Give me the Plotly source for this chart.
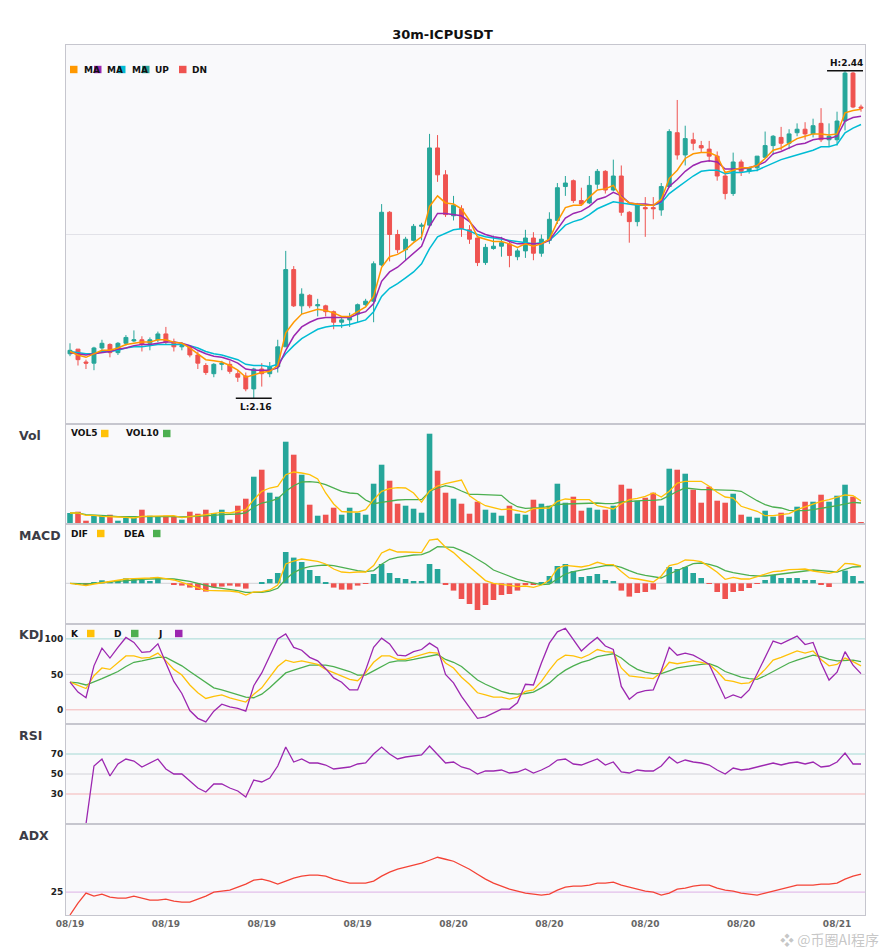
import pandas as pd
import numpy as np
import plotly.graph_objects as go
from plotly.subplots import make_subplots

# 30m candles, 100 bars
times = pd.date_range("2024-08-19 00:00", periods=100, freq="30min")

open_ = [2.198, 2.202, 2.191, 2.190, 2.203, 2.206, 2.199, 2.207, 2.209, 2.210,
         2.207, 2.210, 2.215, 2.208, 2.204, 2.204, 2.197, 2.188, 2.181, 2.189,
         2.189, 2.181, 2.179, 2.168, 2.185, 2.181, 2.187, 2.204, 2.270, 2.239,
         2.248, 2.239, 2.239, 2.234, 2.225, 2.227, 2.232, 2.240, 2.243, 2.274,
         2.319, 2.300, 2.287, 2.295, 2.307, 2.308, 2.374, 2.351, 2.316, 2.322,
         2.304, 2.297, 2.276, 2.288, 2.290, 2.292, 2.281, 2.286, 2.297, 2.284,
         2.295, 2.312, 2.341, 2.346, 2.329, 2.327, 2.343, 2.354, 2.338, 2.350,
         2.319, 2.311, 2.323, 2.323, 2.321, 2.341, 2.387, 2.368, 2.381, 2.376,
         2.373, 2.367, 2.350, 2.335, 2.362, 2.354, 2.357, 2.366, 2.376, 2.383,
         2.378, 2.387, 2.390, 2.386, 2.395, 2.381, 2.381, 2.397, 2.438, 2.409]
high = [2.207, 2.202, 2.193, 2.204, 2.210, 2.207, 2.208, 2.214, 2.218, 2.213,
        2.212, 2.217, 2.221, 2.211, 2.208, 2.205, 2.200, 2.190, 2.190, 2.192,
        2.192, 2.184, 2.182, 2.186, 2.190, 2.191, 2.210, 2.286, 2.273, 2.254,
        2.249, 2.245, 2.240, 2.235, 2.230, 2.233, 2.241, 2.245, 2.277, 2.326,
        2.320, 2.304, 2.298, 2.309, 2.310, 2.386, 2.385, 2.355, 2.333, 2.325,
        2.308, 2.297, 2.292, 2.299, 2.298, 2.294, 2.288, 2.304, 2.302, 2.300,
        2.319, 2.344, 2.350, 2.347, 2.340, 2.350, 2.356, 2.355, 2.364, 2.359,
        2.320, 2.327, 2.332, 2.332, 2.344, 2.390, 2.415, 2.393, 2.387, 2.380,
        2.380, 2.371, 2.354, 2.370, 2.364, 2.358, 2.367, 2.388, 2.385, 2.392,
        2.390, 2.395, 2.396, 2.399, 2.408, 2.395, 2.405, 2.440, 2.439, 2.411]
low = [2.196, 2.188, 2.185, 2.184, 2.200, 2.195, 2.197, 2.205, 2.208, 2.200,
       2.201, 2.208, 2.206, 2.200, 2.201, 2.195, 2.185, 2.180, 2.178, 2.184,
       2.181, 2.174, 2.166, 2.160, 2.170, 2.178, 2.182, 2.204, 2.238, 2.232,
       2.237, 2.230, 2.230, 2.219, 2.220, 2.221, 2.225, 2.239, 2.225, 2.273,
       2.277, 2.284, 2.278, 2.294, 2.295, 2.306, 2.345, 2.315, 2.312, 2.298,
       2.292, 2.273, 2.274, 2.287, 2.281, 2.272, 2.278, 2.280, 2.278, 2.281,
       2.292, 2.309, 2.333, 2.327, 2.325, 2.326, 2.339, 2.335, 2.337, 2.316,
       2.293, 2.307, 2.298, 2.313, 2.316, 2.340, 2.364, 2.359, 2.372, 2.370,
       2.362, 2.346, 2.330, 2.333, 2.350, 2.352, 2.354, 2.366, 2.368, 2.372,
       2.373, 2.384, 2.381, 2.383, 2.379, 2.375, 2.376, 2.389, 2.408, 2.405]
close = [2.201, 2.193, 2.190, 2.203, 2.207, 2.199, 2.207, 2.212, 2.210, 2.206,
         2.210, 2.215, 2.208, 2.204, 2.205, 2.197, 2.190, 2.182, 2.189, 2.190,
         2.183, 2.178, 2.168, 2.185, 2.181, 2.187, 2.204, 2.270, 2.239, 2.249,
         2.239, 2.240, 2.234, 2.225, 2.227, 2.229, 2.240, 2.243, 2.275, 2.319,
         2.300, 2.287, 2.296, 2.307, 2.308, 2.374, 2.351, 2.317, 2.325, 2.305,
         2.296, 2.276, 2.289, 2.290, 2.293, 2.282, 2.286, 2.297, 2.284, 2.296,
         2.313, 2.340, 2.344, 2.329, 2.326, 2.342, 2.354, 2.338, 2.350, 2.319,
         2.311, 2.325, 2.322, 2.322, 2.341, 2.388, 2.368, 2.382, 2.378, 2.374,
         2.367, 2.350, 2.335, 2.362, 2.354, 2.357, 2.367, 2.376, 2.384, 2.378,
         2.386, 2.390, 2.386, 2.393, 2.381, 2.384, 2.397, 2.438, 2.409, 2.408]

# moving averages drawn on the price panel
ma_fast = [2.200, 2.197, 2.195, 2.198, 2.201, 2.201, 2.203, 2.206, 2.207, 2.208,
           2.208, 2.210, 2.210, 2.208, 2.207, 2.203, 2.198, 2.193, 2.192, 2.191,
           2.188, 2.184, 2.178, 2.180, 2.182, 2.183, 2.188, 2.216, 2.225, 2.232,
           2.234, 2.236, 2.235, 2.233, 2.230, 2.230, 2.234, 2.238, 2.247, 2.272,
           2.281, 2.283, 2.287, 2.293, 2.298, 2.324, 2.333, 2.327, 2.326, 2.322,
           2.312, 2.298, 2.296, 2.294, 2.294, 2.292, 2.289, 2.292, 2.290, 2.292,
           2.296, 2.311, 2.323, 2.325, 2.325, 2.332, 2.338, 2.339, 2.342, 2.332,
           2.327, 2.326, 2.325, 2.325, 2.330, 2.348, 2.355, 2.365, 2.369, 2.370,
           2.370, 2.367, 2.353, 2.355, 2.357, 2.357, 2.359, 2.365, 2.372, 2.374,
           2.378, 2.382, 2.384, 2.386, 2.386, 2.385, 2.386, 2.404, 2.406, 2.407]
ma_mid = [2.199, 2.198, 2.197, 2.198, 2.199, 2.200, 2.202, 2.203, 2.205, 2.206,
          2.206, 2.207, 2.208, 2.208, 2.207, 2.205, 2.201, 2.198, 2.196, 2.195,
          2.193, 2.190, 2.185, 2.184, 2.184, 2.184, 2.186, 2.201, 2.213, 2.221,
          2.225, 2.228, 2.229, 2.229, 2.229, 2.229, 2.232, 2.234, 2.241, 2.260,
          2.268, 2.272, 2.278, 2.284, 2.290, 2.307, 2.318, 2.318, 2.317, 2.316,
          2.311, 2.303, 2.300, 2.298, 2.297, 2.294, 2.292, 2.292, 2.292, 2.292,
          2.295, 2.305, 2.314, 2.318, 2.320, 2.324, 2.330, 2.332, 2.336, 2.333,
          2.327, 2.326, 2.326, 2.325, 2.328, 2.341, 2.347, 2.354, 2.359, 2.362,
          2.363, 2.362, 2.356, 2.356, 2.356, 2.357, 2.359, 2.362, 2.369, 2.371,
          2.374, 2.377, 2.378, 2.381, 2.382, 2.382, 2.384, 2.397, 2.400, 2.401]
ma_slow = [2.200, 2.199, 2.198, 2.198, 2.200, 2.200, 2.201, 2.203, 2.204, 2.204,
           2.205, 2.206, 2.206, 2.206, 2.206, 2.205, 2.203, 2.200, 2.198, 2.197,
           2.195, 2.193, 2.189, 2.188, 2.188, 2.187, 2.189, 2.198, 2.205, 2.211,
           2.215, 2.219, 2.221, 2.222, 2.222, 2.223, 2.225, 2.227, 2.234, 2.247,
           2.254, 2.258, 2.263, 2.268, 2.275, 2.288, 2.298, 2.301, 2.304, 2.305,
           2.303, 2.300, 2.298, 2.297, 2.296, 2.295, 2.294, 2.293, 2.292, 2.293,
           2.295, 2.301, 2.308, 2.311, 2.313, 2.317, 2.322, 2.325, 2.328, 2.327,
           2.326, 2.325, 2.325, 2.325, 2.327, 2.335, 2.340, 2.345, 2.350, 2.354,
           2.355, 2.355, 2.352, 2.353, 2.353, 2.354, 2.355, 2.358, 2.361, 2.364,
           2.366, 2.368, 2.370, 2.372, 2.375, 2.375, 2.377, 2.387, 2.391, 2.394]

# volume (x10k) with its two averages
volume = [11.0, 12.3, 3.3, 8.3, 8.3, 9.3, 3.3, 6.0, 6.0, 14.3,
          8.3, 7.7, 8.3, 7.0, 4.3, 12.3, 10.3, 14.3, 11.0, 14.3,
          4.3, 18.3, 25.3, 47.3, 54.3, 31.3, 27.3, 82.3, 69.3, 49.3,
          19.3, 8.3, 9.3, 16.3, 9.3, 16.3, 11.3, 9.3, 40.3, 59.3,
          43.3, 20.3, 18.3, 15.3, 11.3, 90.3, 53.3, 31.3, 25.3, 20.3,
          10.3, 22.3, 14.3, 11.3, 8.3, 18.3, 10.3, 9.3, 24.3, 20.3,
          18.3, 40.3, 21.3, 27.3, 13.3, 16.3, 14.3, 14.3, 18.3, 39.3,
          35.3, 23.3, 26.3, 31.3, 18.3, 55.3, 54.3, 50.3, 34.3, 21.3,
          37.3, 23.3, 21.3, 30.3, 9.3, 7.3, 6.3, 13.3, 7.3, 11.3,
          7.3, 17.3, 22.3, 22.3, 29.3, 22.3, 28.3, 39.3, 27.3, 1.3]
vol5 = [11.0, 11.0, 8.7, 8.7, 7.7, 7.7, 7.0, 6.7, 6.0, 7.7,
        7.7, 8.0, 8.3, 8.3, 6.3, 7.3, 7.7, 9.3, 10.7, 11.7,
        11.0, 12.7, 14.3, 24.3, 32.7, 36.0, 37.7, 49.3, 52.0, 51.0,
        49.3, 45.0, 31.0, 20.0, 12.5, 12.0, 12.0, 14.3, 24.3, 32.7,
        35.3, 36.3, 36.0, 31.0, 21.7, 33.0, 38.0, 40.3, 42.3, 44.0,
        28.3, 22.7, 18.3, 16.0, 14.3, 15.0, 13.7, 11.7, 15.3, 16.0,
        16.0, 22.7, 25.0, 24.3, 24.3, 24.3, 18.3, 17.0, 15.0, 20.3,
        24.3, 25.7, 27.7, 31.0, 27.0, 32.7, 41.0, 42.7, 42.7, 42.7,
        37.7, 31.7, 27.0, 26.0, 17.7, 15.0, 12.7, 8.3, 8.3, 9.3,
        10.3, 14.3, 17.0, 19.3, 22.7, 24.3, 27.0, 29.0, 28.3, 23.0]
vol10 = [11.0, 11.0, 9.3, 9.0, 8.3, 8.0, 7.3, 7.3, 7.3, 7.7,
         8.0, 7.7, 7.7, 7.3, 7.0, 7.3, 7.7, 8.0, 8.7, 9.3,
         9.3, 10.0, 11.0, 17.0, 21.0, 22.7, 25.3, 32.7, 38.3, 42.0,
         42.3, 41.7, 39.3, 36.0, 32.7, 31.0, 30.3, 24.0, 20.3, 21.7,
         23.0, 24.0, 24.3, 24.3, 24.3, 32.5, 36.0, 38.3, 36.7, 33.0,
         29.7, 29.7, 29.3, 29.0, 28.7, 21.7, 17.3, 15.7, 15.7, 16.3,
         17.7, 19.3, 20.0, 20.3, 20.3, 20.3, 21.0, 20.3, 20.3, 22.0,
         22.7, 23.3, 23.7, 23.7, 24.3, 28.3, 32.7, 36.0, 35.0, 34.3,
         34.3, 34.3, 34.3, 33.7, 32.7, 27.7, 23.3, 19.3, 17.0, 16.0,
         13.7, 13.3, 13.3, 14.3, 16.0, 17.0, 18.3, 20.3, 21.7, 21.0]

# MACD (x1e-3)
dif = [0.0, -0.1, -0.23, -0.07, 0.07, 0.17, 0.3, 0.43, 0.47, 0.47,
       0.53, 0.6, 0.47, 0.33, 0.1, -0.17, -0.43, -0.7, -0.73, -0.73,
       -0.77, -0.87, -1.17, -0.87, -0.83, -0.67, -0.17, 1.93, 2.23, 2.43,
       2.33, 2.2, 1.93, 1.43, 1.13, 1.07, 1.13, 1.13, 1.77, 3.03,
       3.4, 3.13, 3.13, 3.13, 3.07, 4.33, 4.43, 3.6, 3.07, 2.33,
       1.67, 0.93, 0.27, 0.0, -0.07, -0.2, -0.33, -0.27, -0.4, -0.17,
       0.33, 1.5, 1.8, 1.73, 1.63, 1.8, 2.1, 1.9, 1.87, 1.17,
       0.53, 0.43, 0.3, 0.13, 0.73, 1.77, 1.93, 2.33, 2.3, 2.17,
       1.67, 1.1, 0.4, 0.6, 0.43, 0.43, 0.67, 0.9, 1.17, 1.23,
       1.37, 1.4, 1.43, 1.23, 1.1, 1.0, 1.2, 2.0, 1.93, 1.73]
dea = [0.0, -0.03, -0.07, 0.0, 0.07, 0.13, 0.2, 0.3, 0.37, 0.4,
       0.43, 0.47, 0.47, 0.43, 0.33, 0.2, 0.0, -0.23, -0.4, -0.5,
       -0.6, -0.73, -0.9, -0.93, -0.9, -0.77, -0.5, 0.4, 1.07, 1.47,
       1.67, 1.77, 1.83, 1.77, 1.6, 1.43, 1.27, 1.17, 1.27, 1.9,
       2.4, 2.6, 2.73, 2.83, 2.87, 3.17, 3.67, 3.67, 3.6, 3.27,
       2.9, 2.4, 1.93, 1.33, 1.0, 0.67, 0.4, 0.2, 0.0, -0.13,
       -0.07, 0.4, 0.93, 1.17, 1.33, 1.47, 1.67, 1.77, 1.8, 1.6,
       1.27, 0.97, 0.8, 0.63, 0.53, 0.93, 1.27, 1.67, 1.97, 2.03,
       1.9, 1.67, 1.27, 1.07, 0.9, 0.8, 0.73, 0.73, 0.83, 0.93,
       1.03, 1.17, 1.27, 1.33, 1.27, 1.17, 1.13, 1.4, 1.63, 1.67]
macd_hist = [0.0, -0.1, -0.1, 0.13, 0.3, 0.2, 0.3, 0.5, 0.43, 0.33,
             0.23, 0.5, 0.0, -0.13, -0.23, -0.43, -0.67, -0.83, -0.4, -0.33,
             -0.23, -0.33, -0.53, 0.0, 0.1, 0.43, 1.03, 3.13, 2.57, 2.13,
             1.33, 0.73, 0.13, -0.43, -0.63, -0.63, -0.23, -0.07, 0.93, 1.93,
             1.03, 0.53, 0.43, 0.23, 0.23, 1.93, 1.43, -0.1, -0.73, -1.57,
             -2.07, -2.67, -2.17, -1.67, -1.17, -1.07, -0.73, -0.13, -0.13, 0.13,
             0.73, 1.73, 1.93, 1.23, 0.63, 0.73, 0.93, 0.33, 0.23, -0.73,
             -1.33, -0.97, -0.87, -0.63, 0.0, 1.63, 1.43, 1.63, 1.03, 0.53,
             -0.07, -0.87, -1.57, -0.87, -0.77, -0.47, -0.07, 0.33, 0.83, 0.53,
             0.53, 0.53, 0.33, 0.33, -0.17, -0.37, 0.0, 1.27, 0.73, 0.23]

# KDJ
kdj_k = [39, 34, 30, 48, 59, 57, 66, 76, 76, 73,
         74, 80, 69, 57, 49, 35, 24, 16, 19, 21,
         17, 14, 11, 22, 31, 46, 61, 70, 67, 69,
         66, 64, 57, 52, 47, 43, 41, 52, 67, 76,
         76, 71, 71, 74, 77, 81, 80, 66, 59, 46,
         36, 24, 21, 18, 18, 15, 18, 26, 28, 40,
         56, 70, 77, 76, 73, 78, 85, 82, 81, 59,
         48, 46, 45, 44, 53, 67, 65, 67, 69, 67,
         64, 54, 42, 40, 37, 38, 46, 57, 70, 74,
         78, 83, 80, 83, 71, 62, 64, 73, 68, 62]
kdj_d = [39, 38, 35, 39, 44, 49, 54, 61, 67, 69,
         71, 74, 74, 68, 62, 54, 46, 38, 31, 28,
         25, 22, 18, 17, 22, 31, 41, 52, 56, 60,
         63, 63, 63, 61, 58, 54, 49, 49, 55, 61,
         67, 69, 69, 71, 73, 76, 78, 71, 67, 61,
         52, 42, 36, 31, 26, 23, 22, 23, 25, 31,
         38, 48, 56, 62, 67, 70, 75, 77, 79, 73,
         64, 57, 53, 51, 51, 55, 59, 61, 63, 64,
         65, 61, 54, 50, 46, 44, 43, 48, 54, 60,
         66, 70, 74, 77, 75, 71, 69, 69, 70, 68]
kdj_j = [39, 25, 17, 62, 87, 73, 88, 102, 95, 81,
         82, 93, 66, 40, 23, -1, -12, -17, -2, 8,
         4, 2, -2, 34, 52, 75, 100, 107, 88, 84,
         74, 69, 58, 45, 39, 28, 28, 56, 88, 101,
         93, 77, 76, 82, 85, 94, 87, 50, 38, 19,
         4, -12, -10, -4, 1, 1, 10, 36, 35, 66,
         94, 110, 115, 99, 83, 93, 102, 90, 85, 33,
         15, 24, 27, 28, 55, 88, 77, 80, 77, 71,
         64, 40, 16, 21, 17, 28, 51, 74, 97, 93,
         99, 104, 92, 95, 66, 42, 53, 82, 63, 51]

rsi = [0, 0, 0, 58, 65, 48, 60, 65, 63, 57,
       61, 65, 55, 50, 50, 43, 36, 32, 40, 40,
       36, 33, 27, 44, 42, 46, 58, 77, 62, 65,
       61, 61, 59, 55, 56, 57, 60, 61, 70, 77,
       70, 65, 67, 68, 69, 78, 70, 61, 62, 57,
       55, 50, 53, 53, 54, 51, 52, 55, 51, 54,
       58, 64, 65, 60, 59, 62, 65, 59, 62, 52,
       51, 54, 53, 53, 58, 67, 61, 64, 62, 61,
       59, 54, 50, 56, 54, 55, 57, 59, 61, 59,
       61, 62, 60, 62, 57, 58, 62, 71, 60, 60]

adx = [13.5, 19.5, 24.5, 23, 24, 22.5, 22, 22, 23, 22,
       21, 21, 21.5, 20.5, 20, 20, 21.5, 23, 25, 25.5,
       26, 27.5, 29, 31, 31.5, 30.5, 29, 30.5, 32, 33,
       33.5, 33.5, 33, 31.5, 30.5, 29.5, 29.5, 29.5, 30.5, 33,
       35, 36.5, 37.5, 38.5, 39.5, 41, 42.5, 41.5, 40.5, 38.5,
       36.5, 34, 31.5, 29.5, 28, 26.5, 25.5, 24.5, 24, 23.5,
       24, 26, 27.5, 28, 28, 28.5, 29.5, 29.5, 30, 28.5,
       27.5, 26.5, 25.5, 25, 23.5, 24.5, 26.5, 27, 28, 28.5,
       28.5, 27, 26, 25.5, 24.5, 24, 23.5, 24.5, 25.5, 26.5,
       27.5, 28.5, 28.5, 28.5, 29, 29, 29.5, 31.5, 33, 34]

UP = "#26a69a"
DN = "#ef5350"
ORANGE = "#ff9800"
PURPLE = "#9c27b0"
CYAN = "#00bcd4"
YELLOW = "#ffc107"
GREEN = "#4caf50"
FONT = "DejaVu Sans"
AXLINE = "#c6c6ce"

W, H = 885, 950
ML, MR, MT, MB = 66, 20, 45, 35
PW, PH = W - ML - MR, H - MT - MB


def px(x):
    return (x - ML) / PW


def py(y):
    return (MT + PH - y) / PH


half = pd.Timedelta(minutes=15)
bar_w = 0.7 * 30 * 60 * 1000

fig = make_subplots(rows=6, cols=1, shared_xaxes=True, vertical_spacing=0,
                    row_heights=[379, 100, 100, 100, 100, 91])

# price
fig.add_trace(go.Candlestick(
    x=times, open=open_, high=high, low=low, close=close,
    increasing=dict(line=dict(color=UP, width=1), fillcolor=UP),
    decreasing=dict(line=dict(color=DN, width=1), fillcolor=DN),
    whiskerwidth=0, showlegend=False, hoverinfo="skip"), row=1, col=1)
for ys, c in [(ma_slow, CYAN), (ma_mid, PURPLE), (ma_fast, ORANGE)]:
    fig.add_trace(go.Scatter(x=times, y=ys, mode="lines", line=dict(color=c, width=1.5),
                             showlegend=False, hoverinfo="skip"), row=1, col=1)

# volume
vol_colors = [UP if c >= o else DN for o, c in zip(open_, close)]
fig.add_trace(go.Bar(x=times, y=volume, marker=dict(color=vol_colors, line=dict(width=0)),
                     width=bar_w, showlegend=False, hoverinfo="skip"), row=2, col=1)
fig.add_trace(go.Scatter(x=times, y=vol10, mode="lines", line=dict(color=GREEN, width=1.3),
                         showlegend=False, hoverinfo="skip"), row=2, col=1)
fig.add_trace(go.Scatter(x=times, y=vol5, mode="lines", line=dict(color=YELLOW, width=1.3),
                         showlegend=False, hoverinfo="skip"), row=2, col=1)

# macd
hist_colors = [UP if v >= 0 else DN for v in macd_hist]
fig.add_trace(go.Bar(x=times, y=macd_hist, marker=dict(color=hist_colors, line=dict(width=0)),
                     width=bar_w, showlegend=False, hoverinfo="skip"), row=3, col=1)
fig.add_trace(go.Scatter(x=times, y=dea, mode="lines", line=dict(color=GREEN, width=1.3),
                         showlegend=False, hoverinfo="skip"), row=3, col=1)
fig.add_trace(go.Scatter(x=times, y=dif, mode="lines", line=dict(color=YELLOW, width=1.3),
                         showlegend=False, hoverinfo="skip"), row=3, col=1)

# kdj
for ys, c in [(kdj_d, GREEN), (kdj_k, YELLOW), (kdj_j, PURPLE)]:
    fig.add_trace(go.Scatter(x=times, y=ys, mode="lines", line=dict(color=c, width=1.3),
                             showlegend=False, hoverinfo="skip"), row=4, col=1)

# rsi
fig.add_trace(go.Scatter(x=times, y=rsi, mode="lines", line=dict(color=PURPLE, width=1.3),
                         showlegend=False, hoverinfo="skip"), row=5, col=1)

# adx
fig.add_trace(go.Scatter(x=times, y=adx, mode="lines", line=dict(color="#f44336", width=1.3),
                         showlegend=False, hoverinfo="skip"), row=6, col=1)

# reference levels
TEAL_L, GRAY_L, RED_L = "#a4d9d4", "#d2d2d8", "#f5b5b5"
for lvl, c in [(100, TEAL_L), (50, GRAY_L), (0, RED_L)]:
    fig.add_hline(y=lvl, line=dict(color=c, width=1), layer="below", row=4, col=1)
for lvl, c in [(70, TEAL_L), (50, GRAY_L), (30, RED_L)]:
    fig.add_hline(y=lvl, line=dict(color=c, width=1), layer="below", row=5, col=1)
fig.add_hline(y=25, line=dict(color="#dcb0e6", width=1), layer="below", row=6, col=1)
fig.add_hline(y=0, line=dict(color=GRAY_L, width=1), layer="below", row=3, col=1)

# high / low markers
ih = int(np.argmax(high))
il = int(np.argmin(low))
for i, val, txt, ys in [(ih, high[ih], f"H:{high[ih]:.2f}", 8), (il, low[il], f"L:{low[il]:.2f}", -9)]:
    fig.add_shape(type="line", x0=times[i] - 4.5 * half, x1=times[i] + 4.5 * half,
                  y0=val, y1=val, line=dict(color="#111", width=1.5), row=1, col=1)
    fig.add_annotation(x=times[i], y=val, text=txt, showarrow=False, yshift=ys,
                       xshift=1 if ys > 0 else 2,
                       font=dict(family=FONT, size=9, color="#111", weight="bold"),
                       row=1, col=1)

# panel titles
for label, ypix in [("Vol", 435), ("MACD", 535), ("KDJ", 634), ("RSI", 735), ("ADX", 835)]:
    fig.add_annotation(xref="paper", yref="paper", x=px(17), y=py(ypix), text=label,
                       showarrow=False, xanchor="left", yanchor="middle",
                       font=dict(family=FONT, size=12.5, color="#3c3c46", weight="bold"))


def legend_item(label, color, text_x, sq_x, ycen):
    fig.add_shape(type="rect", xref="paper", yref="paper",
                  x0=px(sq_x), x1=px(sq_x + 7.5), y0=py(ycen + 3.7), y1=py(ycen - 3.7),
                  fillcolor=color, line=dict(width=0))
    fig.add_annotation(xref="paper", yref="paper", x=px(text_x), y=py(ycen), text=label,
                       showarrow=False, xanchor="left", yanchor="middle",
                       font=dict(family=FONT, size=9, color="#111", weight="bold"))


for lab, col, tx, sx in [("MA", ORANGE, 82, 70), ("MA", PURPLE, 105, 94), ("MA", CYAN, 130, 118),
                         ("UP", UP, 153, 142), ("DN", DN, 190, 179)]:
    legend_item(lab, col, tx, sx, 69.5)
for lab, col, tx, sx in [("VOL5", YELLOW, 69, 101), ("VOL10", GREEN, 124, 163)]:
    legend_item(lab, col, tx, sx, 433.5)
for lab, col, tx, sx in [("DIF", YELLOW, 69, 97), ("DEA", GREEN, 122, 153)]:
    legend_item(lab, col, tx, sx, 533.5)
for lab, col, tx, sx in [("K", YELLOW, 69, 87), ("D", GREEN, 112, 131), ("J", PURPLE, 156, 175)]:
    legend_item(lab, col, tx, sx, 633.5)

# watermark
fig.add_annotation(xref="paper", yref="paper", x=px(880), y=py(950), text="❖ @币圈AI程序",
                   showarrow=False, xanchor="right", yanchor="bottom", borderpad=0,
                   font=dict(family="Noto Sans CJK SC", size=14, color="rgba(150,150,150,0.55)"))

xrange = [times[0] - half, times[-1] + half]
fig.update_xaxes(range=xrange, showgrid=False, showline=True, mirror=True, linecolor=AXLINE,
                 linewidth=1, ticks="", zeroline=False, rangeslider=dict(visible=False))
fig.update_xaxes(tickformat="%m/%d", dtick=6 * 3600 * 1000, tick0=times[0],
                 tickfont=dict(family=FONT, size=9, color="#666", weight="bold"), row=6, col=1)
fig.update_yaxes(showline=True, mirror=True, linecolor=AXLINE, linewidth=1, ticks="",
                 showgrid=False, zeroline=False,
                 tickfont=dict(family=FONT, size=9, color="#222", weight="bold"))
fig.update_yaxes(range=[2.138, 2.462], tickvals=[2.3], showticklabels=False, showgrid=True,
                 gridcolor="#e2e2e8", row=1, col=1)
fig.update_yaxes(range=[0, 100], showticklabels=False, row=2, col=1)
fig.update_yaxes(range=[-4.07, 5.93], showticklabels=False, row=3, col=1)
fig.update_yaxes(range=[-20, 121], tickvals=[0, 50, 100], row=4, col=1)
fig.update_yaxes(range=[0, 100], tickvals=[30, 50, 70], row=5, col=1)
fig.update_yaxes(range=[13.5, 59.2], tickvals=[25], row=6, col=1)

fig.update_layout(
    width=W, height=H,
    margin=dict(l=ML, r=MR, t=MT, b=MB),
    paper_bgcolor="white", plot_bgcolor="#f9f9fb",
    font=dict(family=FONT),
    title=dict(text="30m-ICPUSDT", x=0.5, xanchor="center", y=1 - 34 / H, yanchor="middle",
               font=dict(family=FONT, size=13, color="#111", weight="bold")),
    bargap=0.3, showlegend=False,
)

fig.write_html("out.html", config={"displayModeBar": False},
               post_script="document.body.style.margin='0';")
